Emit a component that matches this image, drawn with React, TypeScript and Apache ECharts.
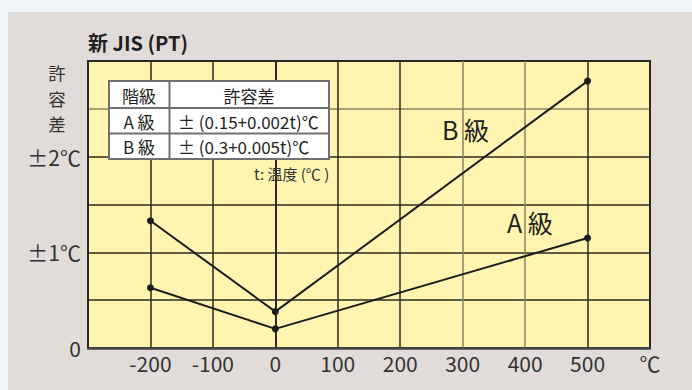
import React, { useEffect, useRef } from "react";
import * as echarts from "echarts";

const title = "新 JIS (PT)";
const yAxisName = ["許", "容", "差"];
const temps = [-200, 0, 500];
const classB = [1.33, 0.38, 2.79];
const classA = [0.63, 0.2, 1.15];
const yTickLabels: Record<string, string> = { "0": "0", "1": "±1℃", "2": "±2℃" };
const xUnitLabel = "℃";
const tableHeader = ["階級", "許容差"];
const tableRows = [
  ["A 級", "± (0.15+0.002t)℃"],
  ["B 級", "± (0.3+0.005t)℃"],
];
const tempNote = "t: 温度 (℃ )";
const seriesLabels = ["B 級", "A 級"];

const FONT = '"Noto Sans CJK JP", "Noto Sans", sans-serif';

function txt(x: number, y: number, text: string, size: number, opts: any = {}) {
  return {
    type: "text",
    x,
    y,
    z: 100,
    style: {
      text,
      fontSize: size,
      fontFamily: FONT,
      fontWeight: opts.weight ?? "normal",
      fill: opts.fill ?? "#231f20",
      textAlign: opts.align ?? "left",
      textVerticalAlign: opts.valign ?? "middle",
    },
  };
}

export default function App() {
  const ref = useRef<HTMLDivElement>(null);
  useEffect(() => {
    document.body.style.margin = "0";
    const chart = echarts.init(ref.current!, null, { renderer: "svg" });
    const dark = "#2b2820";
    const olive = "#8a8462";
    const border = "#707070";
    chart.setOption({
      animation: false,
      backgroundColor: "#eef4f8",
      textStyle: { fontFamily: FONT },
      grid: {
        left: 88,
        top: 61,
        right: 42,
        bottom: 42,
        show: true,
        backgroundColor: "#fff5b0",
        borderColor: "#2a2a2a",
        borderWidth: 2,
      },
      xAxis: {
        type: "value",
        min: -300,
        max: 600,
        interval: 100,
        axisLine: { show: true, lineStyle: { color: "#444", width: 2.5 } },
        axisTick: { show: false },
        axisLabel: {
          fontSize: 21,
          color: "#333",
          margin: 4,
          fontFamily: FONT,
          showMinLabel: true,
          showMaxLabel: true,
          formatter: (v: number) => (v === 600 ? xUnitLabel : v === -300 ? "" : String(v)),
        },
        splitLine: {
          show: true,
          lineStyle: {
            color: [dark, dark, dark, olive, dark, dark, olive, olive, dark, dark],
            width: 1.5,
          },
        },
      },
      yAxis: {
        type: "value",
        min: 0,
        max: 3,
        interval: 0.5,
        axisLine: { show: true, lineStyle: { color: "#2a2a2a", width: 2 } },
        axisTick: { show: false },
        axisLabel: {
          fontSize: 21,
          color: "#333",
          margin: 7,
          fontFamily: FONT,
          formatter: (v: number) => yTickLabels[String(v)] ?? "",
        },
        splitLine: {
          show: true,
          lineStyle: { color: [dark, dark, dark, dark, dark, olive, dark], width: 1.5 },
        },
      },
      series: [
        {
          type: "line",
          data: temps.map((t, i) => [t, classB[i]]),
          symbol: "circle",
          symbolSize: 7,
          itemStyle: { color: "#1c1c1c" },
          lineStyle: { color: "#1c1c1c", width: 2 },
          z: 5,
        },
        {
          type: "line",
          data: temps.map((t, i) => [t, classA[i]]),
          symbol: "circle",
          symbolSize: 7,
          itemStyle: { color: "#1c1c1c" },
          lineStyle: { color: "#1c1c1c", width: 2 },
          z: 5,
        },
      ],
      graphic: {
        elements: [
          {
            type: "rect",
            z: -100,
            silent: true,
            shape: { x: 8, y: 12, width: 700, height: 400 },
            style: { fill: "#e1dcd9" },
          },
          txt(88, 42, title, 20, { weight: "bold" }),
          ...yAxisName.map((c, i) => txt(57, 72.5 + i * 25.5, c, 17.5, { align: "center", fill: "#333" })),
          {
            type: "rect",
            z: 100,
            shape: { x: 109, y: 81, width: 220, height: 78 },
            style: { fill: "#ffffff", stroke: border, lineWidth: 2 },
          },
          { type: "line", z: 101, shape: { x1: 109, y1: 108, x2: 329, y2: 108 }, style: { stroke: border, lineWidth: 2 } },
          { type: "line", z: 101, shape: { x1: 109, y1: 133.5, x2: 329, y2: 133.5 }, style: { stroke: border, lineWidth: 2 } },
          { type: "line", z: 101, shape: { x1: 169.5, y1: 81, x2: 169.5, y2: 159 }, style: { stroke: border, lineWidth: 2 } },
          txt(139, 95, tableHeader[0], 17, { align: "center" }),
          txt(249, 95, tableHeader[1], 17, { align: "center" }),
          ...tableRows.flatMap((row, i) => [
            txt(139, 121 + i * 25.5, row[0], 17, { align: "center" }),
            txt(178, 121 + i * 25.5, row[1], 17),
          ]),
          txt(254, 173, tempNote, 15, { fill: "#333" }),
          txt(442, 129, seriesLabels[0], 25),
          txt(507, 222, seriesLabels[1], 25),
        ],
      },
    });
    return () => chart.dispose();
  }, []);
  return <div ref={ref} style={{ width: 692, height: 390 }} />;
}
